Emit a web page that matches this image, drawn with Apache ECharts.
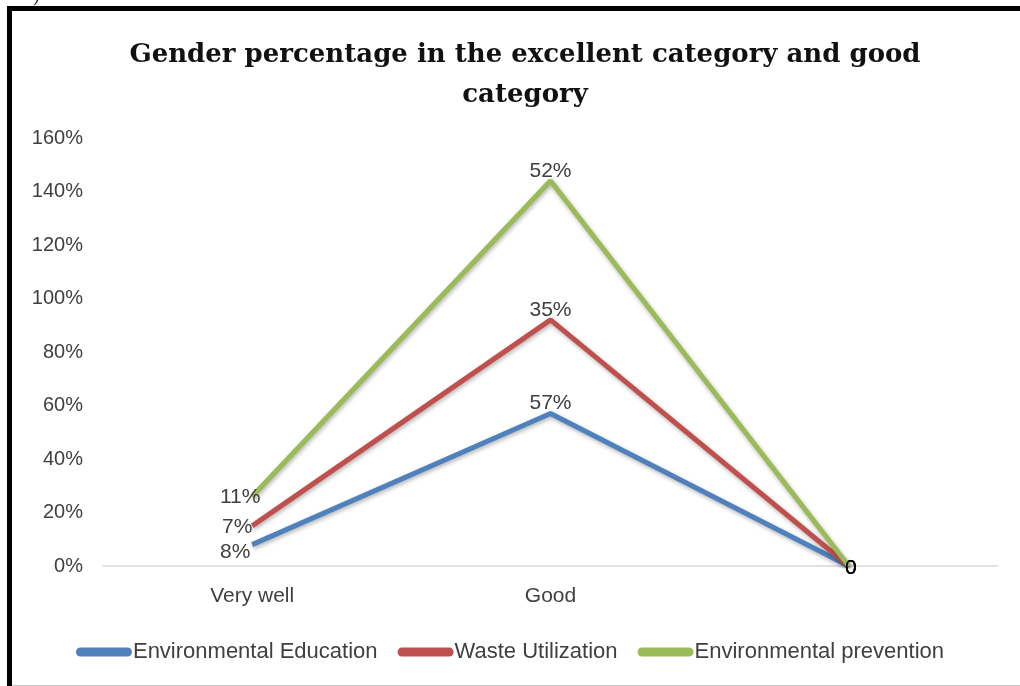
<!DOCTYPE html>
<html>
<head>
<meta charset="utf-8">
<script src="https://cdn.jsdelivr.net/npm/echarts@6/dist/echarts.min.js"></script>
<style>
html,body{margin:0;padding:0;background:#fff;}
#chart{width:1020px;height:686px;}
</style>
</head>
<body>
<div id="chart"></div>
<script>
const categories = ['Very well', 'Good', ''];
const seriesNames = ['Environmental Education', 'Waste Utilization', 'Environmental prevention'];
const eduValues = [8, 57, 0];
const wasteValues = [7, 35, 0];
const preventionValues = [11, 52, 0];
const yTicks = [0, 20, 40, 60, 80, 100, 120, 140, 160];
const colors = ['#4F81BD', '#C0504D', '#9BBB59'];

// label placement for the first category, per series
const firstOffsets = [[-17, 8], [-15, 1], [-12, 1]];

function buildData(values, si) {
  return values.map((v, i) => {
    let label;
    if (i === 0) {
      label = {position: 'inside', offset: firstOffsets[si]};
    } else if (v === 0) {
      label = {position: 'inside', offset: [2, 2], color: '#000'};
    } else {
      label = {position: 'top', distance: -1};
    }
    return {value: v, label: label};
  });
}

const valueSets = [eduValues, wasteValues, preventionValues];
const chart = echarts.init(document.getElementById('chart'));
chart.setOption({
  backgroundColor: '#fff',
  animation: false,
  title: {
    text: 'Gender percentage in the excellent category and good\ncategory',
    left: 520,
    textAlign: 'center',
    top: 30,
    textStyle: {
      fontFamily: 'DejaVu Serif',
      fontWeight: 'bold',
      fontSize: 26,
      lineHeight: 40,
      color: '#111'
    }
  },
  legend: {
    bottom: 18,
    left: 'center',
    itemWidth: 56,
    itemHeight: 9,
    itemGap: 20,
    icon: 'path://M4.5,0 L51.5,0 A4.5,4.5 0 0 1 51.5,9 L4.5,9 A4.5,4.5 0 0 1 4.5,0 Z',
    textStyle: {fontFamily: 'Liberation Sans', fontSize: 22, color: '#404040', padding: [0, 0, 0, -4]},
    data: seriesNames.map((n, i) => ({name: n, itemStyle: {color: colors[i]}}))
  },
  grid: {left: 103, right: 22, top: 138, bottom: 120, containLabel: false},
  xAxis: {
    type: 'category',
    data: categories,
    boundaryGap: true,
    axisLine: {lineStyle: {color: '#d9d9d9', width: 1.5}},
    axisTick: {show: false},
    axisLabel: {fontFamily: 'Liberation Sans', fontSize: 21, color: '#404040', margin: 20}
  },
  yAxis: {
    type: 'value',
    min: yTicks[0],
    max: yTicks[yTicks.length - 1],
    interval: 20,
    splitLine: {show: false},
    axisLine: {show: false},
    axisTick: {show: false},
    axisLabel: {fontFamily: 'Liberation Sans', fontSize: 20, color: '#404040', formatter: '{value}%', margin: 20}
  },
  graphic: [
    {type: 'line', shape: {x1: 7, y1: 8.5, x2: 1020, y2: 8.5}, style: {stroke: '#000', lineWidth: 5}},
    {type: 'line', shape: {x1: 9.5, y1: 6, x2: 9.5, y2: 686}, style: {stroke: '#000', lineWidth: 5}},
    {type: 'line', shape: {x1: 12, y1: 685.5, x2: 1020, y2: 685.5}, style: {stroke: '#c8c8c8', lineWidth: 1}},
    {type: 'text', left: 33, top: -14, style: {text: ')', fontSize: 20, fill: '#333', fontFamily: 'Liberation Serif'}}
  ],
  series: valueSets.map((vals, si) => ({
    name: seriesNames[si],
    type: 'line',
    stack: 'total',
    data: buildData(vals, si),
    symbol: 'circle',
    symbolSize: 1,
    showSymbol: true,
    itemStyle: {color: 'rgba(0,0,0,0)'},
    lineStyle: {
      width: 5,
      color: colors[si],
      shadowColor: 'rgba(0,0,0,0.3)',
      shadowBlur: 4,
      shadowOffsetY: 2,
      shadowOffsetX: 1
    },
    label: {
      show: true,
      fontFamily: 'Liberation Sans',
      fontSize: 21,
      color: '#404040',
      formatter: p => (p.value === 0 ? '0' : p.value + '%')
    },
    emphasis: {disabled: true},
    z: 2 + si
  }))
});
</script>
</body>
</html>
